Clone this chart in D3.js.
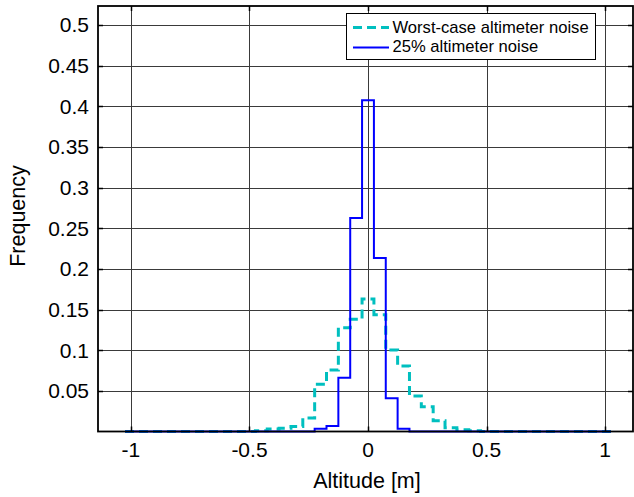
<!DOCTYPE html>
<html>
<head>
<meta charset="utf-8">
<script src="https://cdn.jsdelivr.net/npm/d3@7"></script>
<style>
  html, body { margin: 0; padding: 0; background: #fff; }
  svg { display: block; font-family: "Liberation Sans", Arial, sans-serif; }
</style>
</head>
<body>
<svg id="chart" width="634" height="497"></svg>
<script>
// Histogram bin centres (m)
const binCenters = [
  -1.00, -0.95, -0.90, -0.85, -0.80, -0.75, -0.70, -0.65, -0.60, -0.55,
  -0.50, -0.45, -0.40, -0.35, -0.30, -0.25, -0.20, -0.15, -0.10, -0.05,
   0.00,  0.05,  0.10,  0.15,  0.20,  0.25,  0.30,  0.35,  0.40,  0.45,
   0.50,  0.55,  0.60,  0.65,  0.70,  0.75,  0.80,  0.85,  0.90,  0.95, 1.00
];
const binWidth = 0.05;

// Relative frequency, worst-case altimeter noise
const worstCase = [
  0, 0, 0, 0, 0, 0, 0, 0, 0, 0,
  0, 0.001, 0.003, 0.004, 0.006, 0.0166, 0.058, 0.0756, 0.1277, 0.138,
  0.163, 0.1437, 0.1002, 0.0806, 0.0437, 0.0305, 0.0133, 0.0047, 0.002, 0.001,
  0, 0, 0, 0, 0, 0, 0, 0, 0, 0, 0
];

// Relative frequency, 25% altimeter noise
const quarterNoise = [
  0, 0, 0, 0, 0, 0, 0, 0, 0, 0,
  0, 0, 0, 0, 0, 0, 0.0035, 0.0068, 0.0661, 0.2626,
  0.4074, 0.2134, 0.0408, 0.0035, 0, 0, 0, 0, 0, 0,
  0, 0, 0, 0, 0, 0, 0, 0, 0, 0, 0
];

const xTicks = [-1, -0.5, 0, 0.5, 1];
const yTicks = [0.05, 0.1, 0.15, 0.2, 0.25, 0.3, 0.35, 0.4, 0.45, 0.5];

const seriesNames = ["Worst-case altimeter noise", "25% altimeter noise"];

const plotL = 98, plotR = 633, plotT = 6, plotB = 431.5;

const x = d3.scaleLinear().domain([-1.139, 1.118]).range([plotL, plotR]);
const y = d3.scaleLinear().domain([0, 0.5233]).range([plotB, plotT]);

const svg = d3.select("#chart");

// grid
const grid = svg.append("g").attr("stroke", "#3a3a3a").attr("stroke-width", 1);
xTicks.forEach(t => {
  const px = Math.round(x(t)) + 0.5;
  grid.append("line").attr("x1", px).attr("x2", px).attr("y1", plotT).attr("y2", plotB);
});
yTicks.forEach(t => {
  const py = Math.round(y(t)) + 0.5;
  grid.append("line").attr("x1", plotL).attr("x2", plotR).attr("y1", py).attr("y2", py);
});

// step outlines of the histograms
function stepPoints(vals) {
  const pts = binCenters.map((c, i) => [c - binWidth / 2, vals[i]]);
  pts.push([binCenters[binCenters.length - 1] + binWidth / 2, vals[vals.length - 1]]);
  return pts;
}
const stepLine = d3.line()
  .x(d => x(d[0]))
  .y(d => y(d[1]))
  .curve(d3.curveStepAfter);

svg.append("path")
  .attr("d", stepLine(stepPoints(worstCase)))
  .attr("fill", "none")
  .attr("stroke", "#00bfbf")
  .attr("stroke-width", 3)
  .attr("stroke-dasharray", "9,5");

svg.append("path")
  .attr("d", stepLine(stepPoints(quarterNoise)))
  .attr("fill", "none")
  .attr("stroke", "#0000ff")
  .attr("stroke-width", 2);

// axes box with inward ticks
const box = svg.append("g").attr("stroke", "#000").attr("fill", "none");
box.append("rect")
  .attr("x", plotL).attr("y", plotT)
  .attr("width", plotR - plotL).attr("height", plotB - plotT)
  .attr("stroke-width", 1.8);
xTicks.forEach(t => {
  const px = Math.round(x(t)) + 0.5;
  box.append("line").attr("x1", px).attr("x2", px).attr("y1", plotB).attr("y2", plotB - 5).attr("stroke-width", 1.5);
  box.append("line").attr("x1", px).attr("x2", px).attr("y1", plotT).attr("y2", plotT + 5).attr("stroke-width", 1.5);
});
yTicks.forEach(t => {
  const py = Math.round(y(t)) + 0.5;
  box.append("line").attr("x1", plotL).attr("x2", plotL + 5).attr("y1", py).attr("y2", py).attr("stroke-width", 1.5);
  box.append("line").attr("x1", plotR).attr("x2", plotR - 5).attr("y1", py).attr("y2", py).attr("stroke-width", 1.5);
});

// tick labels (plain hyphen for negatives)
svg.append("g").selectAll("text")
  .data(xTicks).join("text")
  .attr("x", d => x(d))
  .attr("y", 457)
  .attr("text-anchor", "middle")
  .attr("font-size", 21)
  .attr("fill", "#000")
  .text(d => String(d));

svg.append("g").selectAll("text")
  .data(yTicks).join("text")
  .attr("x", 89)
  .attr("y", d => y(d))
  .attr("dy", "0.35em")
  .attr("text-anchor", "end")
  .attr("font-size", 21)
  .attr("fill", "#000")
  .text(d => String(d));

// axis titles
svg.append("text")
  .attr("x", x(0) - 1)
  .attr("y", 488)
  .attr("text-anchor", "middle")
  .attr("font-size", 21.5)
  .text("Altitude [m]");

svg.append("text")
  .attr("transform", "translate(25,216) rotate(-90)")
  .attr("text-anchor", "middle")
  .attr("font-size", 21.5)
  .text("Frequency");

// legend
const lg = svg.append("g");
lg.append("rect")
  .attr("x", 346.5).attr("y", 13.5)
  .attr("width", 249).attr("height", 46)
  .attr("fill", "#fff").attr("stroke", "#000").attr("stroke-width", 1);
lg.append("line")
  .attr("x1", 353).attr("x2", 389).attr("y1", 27.5).attr("y2", 27.5)
  .attr("stroke", "#00bfbf").attr("stroke-width", 3).attr("stroke-dasharray", "9,5");
lg.append("line")
  .attr("x1", 353).attr("x2", 389).attr("y1", 47.5).attr("y2", 47.5)
  .attr("stroke", "#0000ff").attr("stroke-width", 2);
lg.append("text").attr("x", 392.5).attr("y", 32.7).attr("font-size", 16.6).text(seriesNames[0]);
lg.append("text").attr("x", 392.5).attr("y", 51.7).attr("font-size", 16.6).text(seriesNames[1]);
</script>
</body>
</html>
